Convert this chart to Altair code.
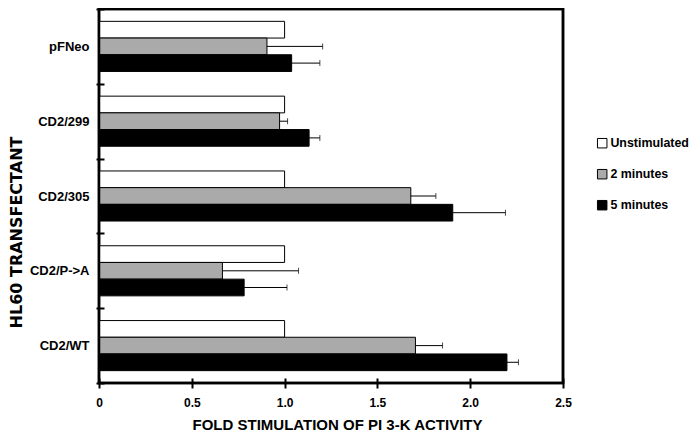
import altair as alt
import pandas as pd

groups = ["pFNeo", "CD2/299", "CD2/305", "CD2/P->A", "CD2/WT"]
series = ["Unstimulated", "2 minutes", "5 minutes"]
unstim = [1.0, 1.0, 1.0, 1.0, 1.0]
two_min = [0.905, 0.973, 1.68, 0.665, 1.705]
two_min_err = [0.30, 0.043, 0.135, 0.41, 0.146]
five_min = [1.038, 1.132, 1.906, 0.782, 2.198]
five_min_err = [0.152, 0.058, 0.284, 0.231, 0.062]
x_ticks = [0, 0.5, 1.0, 1.5, 2.0, 2.5]
colors = ["white", "#aaaaaa", "black"]

rows = []
for i, g in enumerate(groups):
    rows.append(dict(group=g, series=series[0], value=unstim[i], hi=None))
    rows.append(dict(group=g, series=series[1], value=two_min[i], hi=two_min[i] + two_min_err[i]))
    rows.append(dict(group=g, series=series[2], value=five_min[i], hi=five_min[i] + five_min_err[i]))
df = pd.DataFrame(rows)
err_df = df.dropna(subset=["hi"]).copy()

FONT = "Liberation Sans"

y_axis = alt.Axis(
    title="HL60 TRANSFECTANT", domain=False, tickBand="extent", tickSize=8, tickWidth=2,
    tickColor="black", offset=-5, labelFontSize=13, labelFontWeight="bold", labelColor="black",
    labelPadding=7, labelFont=FONT, titleFont="DejaVu Sans", titleFontSize=16, titleFontWeight="bold",
    titleColor="black", titleX=-83, titleY=223, titleBaseline="alphabetic", titleAlign="center",
)
x_axis = alt.Axis(
    title="FOLD STIMULATION OF PI 3-K ACTIVITY", values=x_ticks, domain=False, grid=False,
    tickSize=10, tickWidth=2, tickColor="black", offset=-5, labelFlush=False,
    labelExpr="datum.value == 0 ? '0' : format(datum.value, '.1f')",
    labelFontSize=12, labelFontWeight="bold", labelColor="black", labelPadding=9, labelFont=FONT,
    titleFont=FONT, titleFontSize=15, titleFontWeight="bold", titleColor="black",
    titleX=238, titleY=51, titleBaseline="alphabetic", titleAlign="center",
)

y_enc = alt.Y("group:N", sort=groups, scale=alt.Scale(paddingInner=0, paddingOuter=0), axis=y_axis)
y_plain = alt.Y("group:N", sort=groups, scale=alt.Scale(paddingInner=0, paddingOuter=0))
yoff = alt.YOffset("series:N", sort=series, scale=alt.Scale(paddingInner=0, paddingOuter=0.74))
x_scale = alt.Scale(domain=[0, 2.5], nice=False)

bars = alt.Chart(df).mark_bar(stroke="black", strokeWidth=1).encode(
    x=alt.X("value:Q", scale=x_scale, axis=x_axis),
    y=y_enc,
    yOffset=yoff,
    color=alt.Color(
        "series:N", sort=series,
        scale=alt.Scale(domain=series, range=colors),
        legend=alt.Legend(
            title=None, orient="none", legendX=497, legendY=128, padding=0, rowPadding=17,
            labelOffset=2, symbolType="square", symbolSize=90, symbolStrokeColor="black",
            symbolStrokeWidth=1, labelFontSize=12.4, labelFontWeight="bold", labelFont=FONT,
            labelColor="black",
        ),
    ),
)

rules = alt.Chart(err_df).mark_rule(color="black", strokeWidth=1).encode(
    x=alt.X("value:Q", scale=x_scale),
    x2="hi:Q",
    y=y_plain,
    yOffset=yoff,
)

caps = alt.Chart(err_df).mark_tick(color="black", thickness=1, size=6).encode(
    x=alt.X("hi:Q", scale=x_scale),
    y=y_plain,
    yOffset=yoff,
)

frame = alt.Chart(pd.DataFrame({"k": [0]})).mark_rect(
    filled=False, stroke="black", strokeWidth=2.5
).encode(
    x=alt.value(0), x2=alt.value("width"), y=alt.value(0), y2=alt.value("height")
)

chart = (
    alt.layer(bars, rules, caps, frame)
    .properties(
        width=464, height=374,
        autosize=alt.AutoSizeParams(type="none"),
        padding={"left": 91, "top": 1, "right": 126, "bottom": 49},
        background="white",
    )
    .configure(font=FONT)
    .configure_view(stroke="black", strokeWidth=2.5)
)

chart.save("out.html", embed_options={"renderer": "svg", "actions": False})
